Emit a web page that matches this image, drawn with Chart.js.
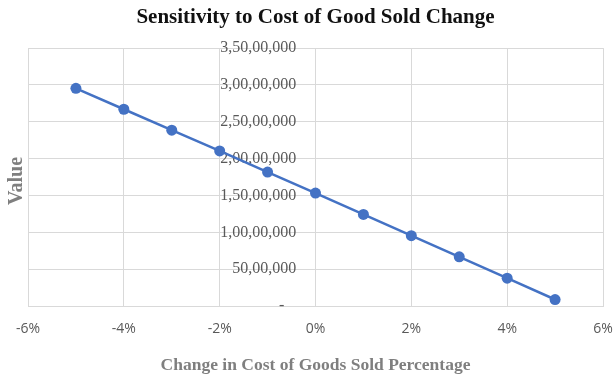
<!DOCTYPE html>
<html>
<head>
<meta charset="utf-8">
<script src="https://cdn.jsdelivr.net/npm/chart.js@4/dist/chart.umd.min.js"></script>
<style>
  html, body { margin: 0; padding: 0; background: #ffffff; }
  #wrap { width: 614px; height: 376px; position: relative; }
</style>
</head>
<body>
<div id="wrap"><canvas id="chart"></canvas></div>
<script>
// Change in cost of goods sold (%) and the resulting value
const changePct = [-5, -4, -3, -2, -1, 0, 1, 2, 3, 4, 5];
const values = [29540000, 26700000, 23860000, 21050000, 18170000, 15330000, 12430000, 9550000, 6670000, 3770000, 880000];

// Axis tick values
const xTickValues = [-6, -4, -2, 0, 2, 4, 6];
const yTickValues = [0, 5000000, 10000000, 15000000, 20000000, 25000000, 30000000, 35000000];

const chartTitle = 'Sensitivity to Cost of Good Sold Change';
const xAxisTitle = 'Change in Cost of Goods Sold Percentage';
const yAxisTitle = 'Value';

// Indian digit grouping: 3,50,00,000
function formatIndian(n) {
  const s = String(Math.round(Math.abs(n)));
  if (s.length <= 3) return s;
  const last3 = s.slice(-3);
  const rest = s.slice(0, -3).replace(/\B(?=(\d{2})+(?!\d))/g, ',');
  return rest + ',' + last3;
}

const serif = '"Liberation Serif", "Times New Roman", serif';
const sans = '"Open Sans", "Liberation Sans", sans-serif';
const gridColor = '#d9d9d9';
const tickColor = '#595959';
const blue = '#4472c4';

// Rotated y-axis title at the far left of the chart
const leftTitlePlugin = {
  id: 'leftTitle',
  afterDraw(chart) {
    const ctx = chart.ctx;
    ctx.save();
    ctx.translate(17, 181);
    ctx.rotate(-Math.PI / 2);
    ctx.font = 'bold 20px ' + serif;
    ctx.fillStyle = '#7f7f7f';
    ctx.textAlign = 'center';
    ctx.textBaseline = 'middle';
    ctx.fillText(yAxisTitle, 0, 0);
    ctx.restore();
  }
};

new Chart(document.getElementById('chart'), {
  type: 'line',
  data: {
    datasets: [{
      data: changePct.map((x, i) => ({ x: x, y: values[i] })),
      borderColor: blue,
      backgroundColor: blue,
      borderWidth: 2.5,
      pointRadius: 5.5,
      pointHoverRadius: 5.5,
      pointBackgroundColor: blue,
      pointBorderColor: blue,
      pointBorderWidth: 0,
      tension: 0
    }]
  },
  options: {
    responsive: true,
    maintainAspectRatio: false,
    animation: false,
    layout: { padding: { left: 28, right: 11, top: 0, bottom: 0 } },
    plugins: {
      legend: { display: false },
      tooltip: { enabled: false },
      title: {
        display: true,
        text: chartTitle,
        color: '#111111',
        font: { family: serif, size: 21, weight: 'bold' },
        padding: { top: 5, bottom: 17.9 }
      }
    },
    scales: {
      x: {
        type: 'linear',
        min: -6,
        max: 6,
        afterBuildTicks: s => { s.ticks = xTickValues.map(v => ({ value: v })); },
        // keep the plot edges fixed; end labels may overhang the margins
        afterFit: s => { s.paddingLeft = 0; s.paddingRight = 0; },
        grid: { color: gridColor, lineWidth: 1, drawTicks: false },
        border: { color: gridColor },
        ticks: {
          color: tickColor,
          font: { family: sans, size: 14 },
          padding: 15,
          callback: v => v + '%'
        },
        title: {
          display: true,
          text: xAxisTitle,
          color: '#7f7f7f',
          font: { family: serif, size: 17.5, weight: 'bold' },
          padding: { top: 2.2, bottom: 0 }
        }
      },
      y: {
        type: 'linear',
        // labels sit just left of the 0% line
        position: { x: -0.4 },
        min: 0,
        max: 35000000,
        afterBuildTicks: s => { s.ticks = yTickValues.map(v => ({ value: v })); },
        grid: { color: gridColor, lineWidth: 1, drawTicks: false },
        border: { display: false },
        ticks: {
          color: tickColor,
          font: { family: serif, size: 16 },
          callback: v => (v === 0 ? '-   ' : formatIndian(v))
        }
      }
    }
  },
  plugins: [leftTitlePlugin]
});
</script>
</body>
</html>
